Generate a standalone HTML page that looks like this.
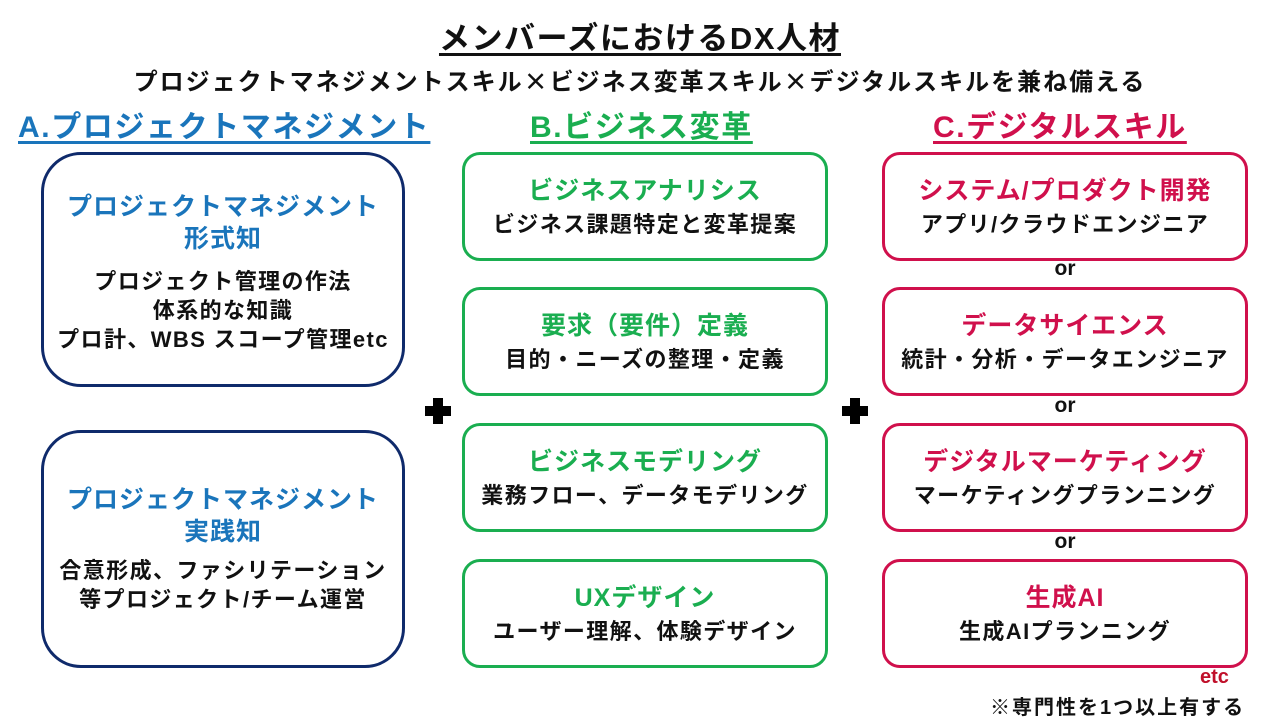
<!DOCTYPE html>
<html><head><meta charset="utf-8"><style>
body{margin:0;width:1280px;height:720px;background:#fff;position:relative;overflow:hidden;font-family:"Liberation Sans","Noto Sans CJK JP",sans-serif;font-weight:bold;}
.a{position:absolute;}
.t{left:0;width:1280px;text-align:center;}
.box{position:absolute;box-sizing:border-box;background:#fff;display:flex;flex-direction:column;justify-content:center;align-items:center;text-align:center;}
.A{left:41px;width:364px;border:3.5px solid #0f2a6b;border-radius:40px;}
.B{left:462px;width:366px;height:109px;border:3px solid #1aae50;border-radius:18px;}
.C{left:882px;width:366px;height:109px;border:3px solid #d0104c;border-radius:18px;}
.h{font-size:25px;line-height:32px;letter-spacing:1px;white-space:nowrap;}
.b{font-size:22px;line-height:29px;color:#111;letter-spacing:1.4px;white-space:nowrap;}
.B .b,.C .b{margin-top:3px;}
.or{position:absolute;left:1040px;width:50px;text-align:center;font-size:21px;color:#111;}
.plus{position:absolute;width:26px;height:26px;}
.plus:before,.plus:after{content:"";position:absolute;background:#000;}
.plus:before{left:8px;top:0;width:10px;height:26px;}
.plus:after{left:0;top:8px;width:26px;height:10px;}
.j{font-family:"Noto Sans CJK JP",sans-serif;}
</style></head><body>
<div class="a t" style="top:13px;font-size:31px;color:#111;letter-spacing:1.5px;"><span style="text-decoration:underline;text-underline-offset:4px;">メンバーズにおけるDX人材</span></div>
<div class="a t" style="top:62px;font-size:24px;color:#111;letter-spacing:2px;">プロジェクトマネジメントスキル<span class="j">×</span>ビジネス変革スキル<span class="j">×</span>デジタルスキルを兼ね備える</div>
<div class="a" style="left:18px;top:102px;font-size:30px;color:#1a75bb;text-decoration:underline;text-underline-offset:4px;letter-spacing:1.6px;">A.プロジェクトマネジメント</div>
<div class="a" style="left:530px;top:102px;font-size:30px;color:#1aae50;text-decoration:underline;text-underline-offset:4px;letter-spacing:1.6px;">B.ビジネス変革</div>
<div class="a" style="left:933px;top:102px;font-size:30px;color:#d0104c;text-decoration:underline;text-underline-offset:4px;letter-spacing:1.6px;">C.デジタルスキル</div>

<div class="box A" style="top:152px;height:235px;">
<div class="h" style="color:#1a75bb;margin-top:6px;">プロジェクトマネジメント<br>形式知</div>
<div class="b" style="margin-top:12px;">プロジェクト管理の作法<br>体系的な知識<br>プロ計、WBS スコープ管理etc</div></div>
<div class="box A" style="top:430px;height:238px;">
<div class="h" style="color:#1a75bb;">プロジェクトマネジメント<br>実践知</div>
<div class="b" style="margin-top:8px;">合意形成、ファシリテーション<br>等プロジェクト/チーム運営</div></div>

<div class="box B" style="top:152px;"><div class="h" style="color:#1aae50;">ビジネスアナリシス</div><div class="b">ビジネス課題特定と変革提案</div></div>
<div class="box B" style="top:287px;"><div class="h" style="color:#1aae50;">要求（要件）定義</div><div class="b">目的・ニーズの整理・定義</div></div>
<div class="box B" style="top:423px;"><div class="h" style="color:#1aae50;">ビジネスモデリング</div><div class="b">業務フロー、データモデリング</div></div>
<div class="box B" style="top:559px;"><div class="h" style="color:#1aae50;">UXデザイン</div><div class="b">ユーザー理解、体験デザイン</div></div>

<div class="box C" style="top:152px;"><div class="h" style="color:#d0104c;">システム/プロダクト開発</div><div class="b">アプリ/クラウドエンジニア</div></div>
<div class="or" style="top:257px;">or</div>
<div class="box C" style="top:287px;"><div class="h" style="color:#d0104c;">データサイエンス</div><div class="b">統計・分析・データエンジニア</div></div>
<div class="or" style="top:394px;">or</div>
<div class="box C" style="top:423px;"><div class="h" style="color:#d0104c;">デジタルマーケティング</div><div class="b">マーケティングプランニング</div></div>
<div class="or" style="top:530px;">or</div>
<div class="box C" style="top:559px;"><div class="h" style="color:#d0104c;">生成AI</div><div class="b">生成AIプランニング</div></div>

<div class="plus" style="left:425px;top:398px;"></div>
<div class="plus" style="left:842px;top:398px;"></div>

<div class="a" style="left:1200px;top:666px;font-size:20px;color:#c0102a;">etc</div>
<div class="a" style="left:990px;top:691px;font-size:20px;color:#111;letter-spacing:2px;">※専門性を1つ以上有する</div>
</body></html>
